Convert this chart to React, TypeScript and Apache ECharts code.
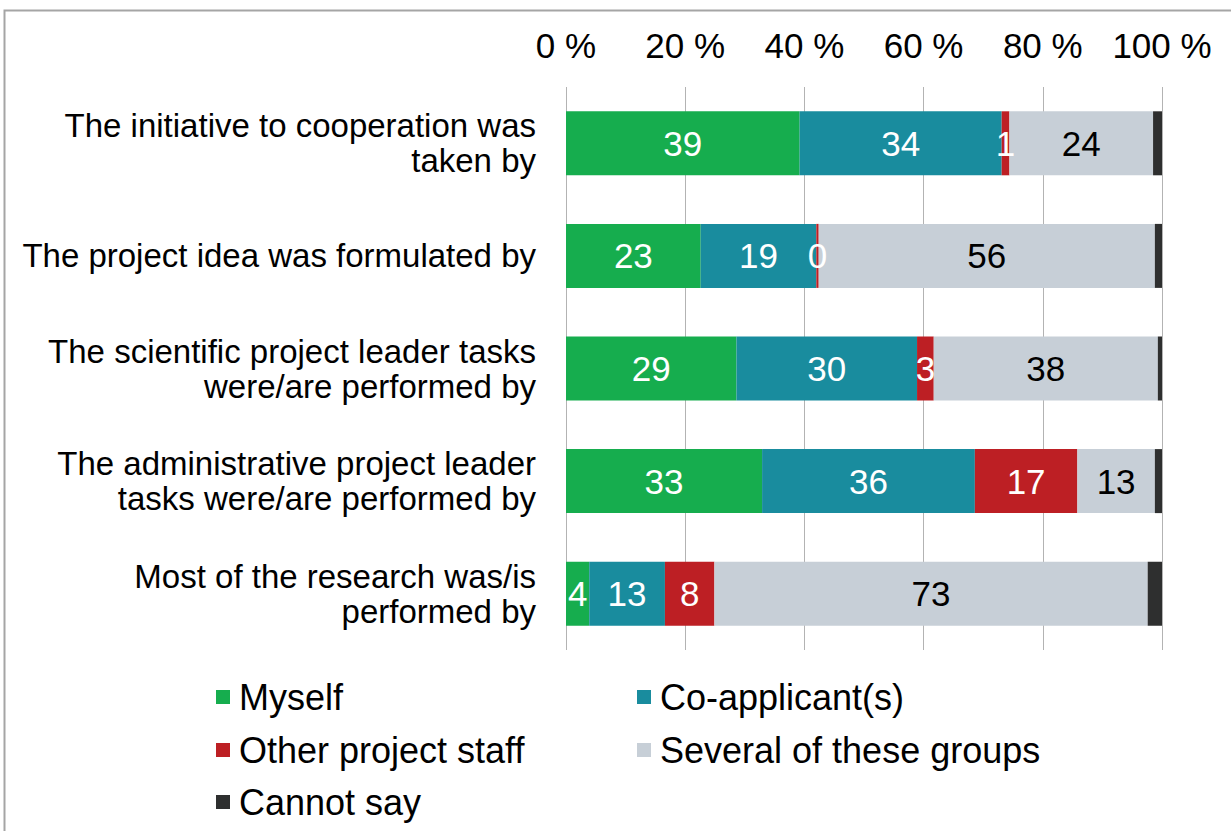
import React, { useEffect, useRef } from "react";
import * as echarts from "echarts";

const categories = [
  "The initiative to cooperation was\ntaken by",
  "The project idea was formulated by",
  "The scientific project leader tasks\nwere/are performed by",
  "The administrative project leader\ntasks were/are performed by",
  "Most of the research was/is\nperformed by",
];

const seriesNames = ["Myself", "Co-applicant(s)", "Other project staff", "Several of these groups", "Cannot say"];

const myself = [39.2, 22.6, 28.6, 32.9, 3.9];
const coApplicants = [33.9, 19.4, 30.3, 35.7, 12.7];
const otherStaff = [1.3, 0.4, 2.8, 17.2, 8.3];
const severalGroups = [24.1, 56.4, 37.6, 13.0, 72.7];
const cannotSay = [1.5, 1.2, 0.7, 1.2, 2.4];

const tickValues = [0, 20, 40, 60, 80, 100];

const colors = ["#16ad4e", "#198c9e", "#bd1f24", "#c7cfd7", "#2e2f2f"];
const labelColors = ["#ffffff", "#ffffff", "#ffffff", "#000000", null];
const FONT = "'Liberation Sans', Arial, sans-serif";

export default function App() {
  const ref = useRef<HTMLDivElement>(null);
  useEffect(() => {
    if (!ref.current) return;
    const chart = echarts.init(ref.current, null, { renderer: "svg" });
    const allData = [myself, coApplicants, otherStaff, severalGroups, cannotSay];
    const series = seriesNames.map((name, i) => ({
      name,
      type: "bar",
      stack: "total",
      barWidth: 64,
      data: allData[i],
      itemStyle: { color: colors[i] },
      label: labelColors[i]
        ? {
            show: true,
            position: "inside",
            color: labelColors[i],
            fontSize: 35,
            fontFamily: FONT,
            formatter: (p: any) => String(Math.round(p.value)),
          }
        : { show: false },
    }));
    const legendPos = [
      { left: 216, top: 679 },
      { left: 637, top: 679 },
      { left: 216, top: 732 },
      { left: 637, top: 732 },
      { left: 216, top: 784 },
    ];
    chart.setOption({
      animation: false,
      textStyle: { fontFamily: FONT },
      grid: { left: 566, right: 69, top: 87, bottom: 181, containLabel: false },
      xAxis: {
        type: "value",
        position: "top",
        min: tickValues[0],
        max: tickValues[tickValues.length - 1],
        interval: 20,
        axisLine: { show: false },
        axisTick: { show: false },
        axisLabel: {
          fontSize: 35,
          color: "#000",
          fontFamily: FONT,
          margin: 24,
          formatter: "{value} %",
        },
        splitLine: { show: true, lineStyle: { color: "#b3b3b3", width: 1 } },
      },
      yAxis: {
        type: "category",
        inverse: true,
        data: categories,
        axisLine: { show: false },
        axisTick: { show: false },
        axisLabel: {
          fontSize: 33,
          lineHeight: 35,
          color: "#000",
          fontFamily: FONT,
          margin: 30,
          align: "right",
        },
      },
      legend: seriesNames.map((n, i) => ({
        data: [n],
        left: legendPos[i].left,
        top: legendPos[i].top,
        icon: "rect",
        itemWidth: 14,
        itemHeight: 14,
        padding: 0,
        textStyle: { fontSize: 36, color: "#000", fontFamily: FONT, padding: [0, 0, 0, 4] },
        selectedMode: false,
      })),
      graphic: [
        {
          type: "rect",
          shape: { x: 4.5, y: 10.5, width: 1400, height: 1000 },
          style: { fill: "none", stroke: "#a5a5a5", lineWidth: 2 },
          silent: true,
        },
      ],
      series,
    });
    return () => chart.dispose();
  }, []);
  return (
    <div
      ref={ref}
      style={{ position: "absolute", left: 0, top: 0, width: 1231, height: 831, background: "#fff" }}
    />
  );
}
